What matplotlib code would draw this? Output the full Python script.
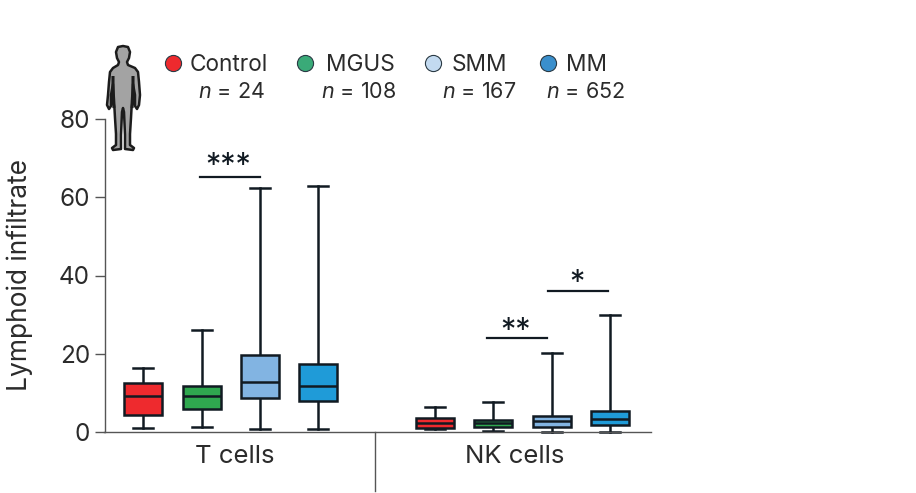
import matplotlib
matplotlib.use("Agg")
import matplotlib.pyplot as plt
from matplotlib.patches import PathPatch
from matplotlib.path import Path
from matplotlib.transforms import Affine2D

plt.rcParams['font.family'] = ['Inter', 'DejaVu Sans']
plt.rcParams['mathtext.fontset'] = 'custom'
plt.rcParams['mathtext.it'] = 'Inter:italic'
plt.rcParams['mathtext.rm'] = 'Inter'

W, H = 916, 493

# data
groups = ['Control', 'MGUS', 'SMM', 'MM']
counts = [24, 108, 167, 652]
cell_types = ['T cells', 'NK cells']

t_low = [1.1, 1.3, 0.7, 0.7]
t_q1 = [4.4, 5.9, 8.8, 7.8]
t_med = [9.2, 9.1, 12.9, 11.7]
t_q3 = [12.4, 11.8, 19.7, 17.5]
t_high = [16.3, 26.0, 62.4, 62.9]

nk_low = [0.7, 0.2, 0.1, 0.1]
nk_q1 = [0.9, 1.2, 1.3, 1.8]
nk_med = [2.2, 2.2, 2.7, 3.3]
nk_q3 = [3.5, 3.1, 4.0, 5.3]
nk_high = [6.3, 7.7, 20.2, 30.0]

yticks = [0, 20, 40, 60, 80]

box_colors = ['#ee2a2e', '#2fa84f', '#82b4e2', '#1f9bd8']
dot_colors = ['#ee2a2e', '#3aaa78', '#c3daf0', '#3a8fcc']
edge = '#111a22'
text_col = '#2b2b2b'
axis_col = '#555555'

fig = plt.figure(figsize=(W / 100, H / 100), dpi=100)
ax = fig.add_axes([104.5 / W, 1 - 432 / H, (651 - 104.5) / W, (432 - 119) / H])
ax.set_xlim(104.5, 651)
ax.set_ylim(0, 80)


def draw_boxes(low, q1, med, q3, high, centers):
    stats = []
    for i in range(4):
        stats.append({'whislo': low[i], 'q1': q1[i], 'med': med[i], 'q3': q3[i], 'whishi': high[i]})
    parts = ax.bxp(stats, positions=centers, widths=38, patch_artist=True, showfliers=False,
                   boxprops={'edgecolor': edge, 'linewidth': 1.8},
                   medianprops={'color': edge, 'linewidth': 1.8},
                   whiskerprops={'color': edge, 'linewidth': 1.8},
                   capprops={'color': edge, 'linewidth': 1.8},
                   capwidths=20, manage_ticks=False)
    for box, c in zip(parts['boxes'], box_colors):
        box.set_facecolor(c)
        box.set_zorder(3)
    for line in parts['whiskers'] + parts['caps'] + parts['medians']:
        line.set_clip_on(False)
    for line in parts['medians']:
        line.set_zorder(4)


draw_boxes(t_low, t_q1, t_med, t_q3, t_high, [143, 202, 260, 318])
draw_boxes(nk_low, nk_q1, nk_med, nk_q3, nk_high, [435, 493, 552, 610])

# axes
for s in ['top', 'right']:
    ax.spines[s].set_visible(False)
for s in ['left', 'bottom']:
    ax.spines[s].set_color(axis_col)
    ax.spines[s].set_linewidth(1.0)
ax.set_xticks([])
ax.set_yticks(yticks)
ax.tick_params(axis='y', length=7.5, width=1.0, color=axis_col, pad=3, labelsize=17.5, labelcolor=text_col)
fig.text(19.5 / W, 1 - 275 / H, 'Lymphoid infiltrate', rotation=90, ha='center', va='center', fontsize=19, color=text_col)

ax.plot([374.5, 374.5], [0, -15.1], color=axis_col, lw=1.0, clip_on=False)
ax.text(234.5, -6.3, cell_types[0], ha='center', va='center', fontsize=18.5, color=text_col)
ax.text(515, -6.3, cell_types[1], ha='center', va='center', fontsize=18.5, color=text_col)

# significance bars
ax.plot([200, 260], [65.2, 65.2], color=edge, lw=1.6)
ax.text(228.5, 64.3, '***', ha='center', va='bottom', fontsize=22, color=edge)
ax.plot([487, 547], [24.0, 24.0], color=edge, lw=1.6)
ax.text(516, 22.3, '**', ha='center', va='bottom', fontsize=22, color=edge)
ax.plot([548, 608], [36.0, 36.0], color=edge, lw=1.6)
ax.text(577, 34.4, '*', ha='center', va='bottom', fontsize=22, color=edge)

# legend
dot_x = [173, 305, 433, 548]
label_x = [190, 326, 452, 566]
n_x = [231, 359, 479, 586]
for i in range(4):
    ax.scatter([dot_x[i]], [94.3], s=135, color=dot_colors[i], edgecolor='#2a3a44', linewidth=0.8, clip_on=False, zorder=5)
    ax.text(label_x[i], 93.9, groups[i], ha='left', va='center', fontsize=16.3, color=text_col)
    ax.text(n_x[i], 87.0, '$n$ = %d' % counts[i], ha='center', va='center', fontsize=15.5, color=text_col)

# human figure, picture pixels
to_fig = Affine2D().scale(1, -1).translate(0, H)
outline = [(123, 46), (128, 47), (130, 52), (129, 58), (127, 62), (128, 65), (135, 68), (138, 72),
           (139, 82), (140, 95), (139, 105), (137, 109), (135, 106), (135, 95), (133, 84),
           (132, 100), (131, 118), (130, 134), (130, 145), (134, 148), (133, 150), (125, 149),
           (125, 135), (124, 112), (123, 108), (122, 112), (121, 135), (121, 149), (113, 150),
           (112, 148), (116, 145), (116, 134), (115, 118), (114, 100), (113, 84), (111, 95),
           (111, 106), (109, 109), (107, 105), (108, 95), (109, 82), (110, 72), (113, 68),
           (118, 65), (119, 62), (117, 58), (116, 52), (118, 47), (123, 46)]
codes = [Path.MOVETO] + [Path.LINETO] * (len(outline) - 2) + [Path.CLOSEPOLY]
fig.add_artist(PathPatch(Path(outline, codes), facecolor='#a3a3a3', edgecolor='#1c1c1c', linewidth=1.8,
                         joinstyle='round', transform=to_fig))
# dark gaps between the arms and the body
for gap in ([(113, 76), (113, 100), (114, 108)], [(133, 76), (133, 100), (132, 108)]):
    fig.add_artist(PathPatch(Path(gap), fill=False, edgecolor='#1c1c1c', linewidth=2.2, transform=to_fig))

fig.savefig('out.png', dpi=100)
